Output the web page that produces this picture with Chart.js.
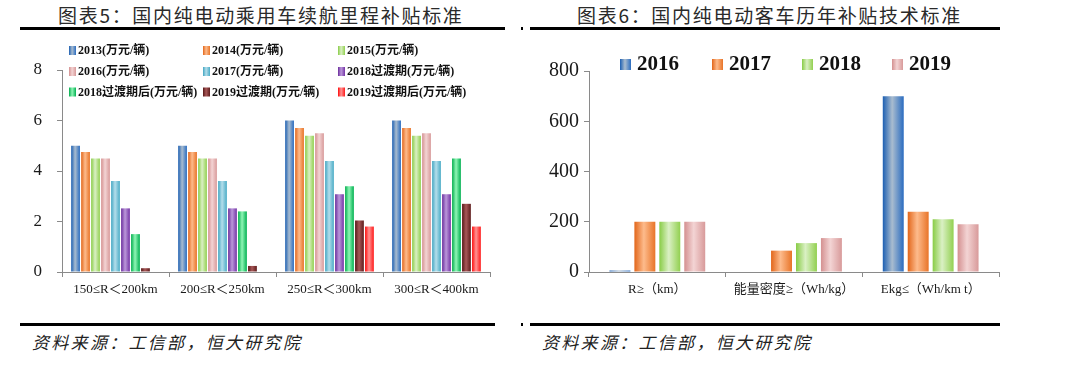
<!DOCTYPE html>
<html><head><meta charset="utf-8">
<script src="https://cdn.jsdelivr.net/npm/chart.js@4/dist/chart.umd.min.js"></script>
<style>
html,body{margin:0;padding:0;background:#fff;width:1065px;height:378px;overflow:hidden;position:relative}
.title{position:absolute;top:3px;font-family:'Noto Sans CJK SC';font-size:19px;letter-spacing:1.7px;color:#2a2a2a;white-space:nowrap;line-height:24px}
.rule{position:absolute;height:3px;background:#000}
.src{position:absolute;top:331px;font-family:'Noto Sans CJK SC';font-style:italic;font-size:17px;letter-spacing:2.3px;color:#222;line-height:22px;white-space:nowrap}
.wrap{position:absolute}
</style></head>
<body>
<div class="title" style="left:58px">图表5：国内纯电动乘用车续航里程补贴标准</div>
<div class="title" style="left:577px">图表6：国内纯电动客车历年补贴技术标准</div>
<div class="rule" style="left:20px;top:27px;width:485px"></div>
<div class="rule" style="left:521px;top:27px;width:2px"></div>
<div class="rule" style="left:530px;top:27px;width:470px"></div>
<div class="wrap" style="left:0;top:40px;width:520px;height:265px"><canvas id="c1" width="520" height="265"></canvas></div>
<div class="wrap" style="left:530px;top:40px;width:500px;height:265px"><canvas id="c2" width="500" height="265"></canvas></div>
<div class="rule" style="left:20px;top:323px;width:475px"></div>
<div class="rule" style="left:521px;top:323px;width:2px"></div>
<div class="rule" style="left:530px;top:323px;width:470px"></div>
<div class="src" style="left:32px">资料来源：工信部，恒大研究院</div>
<div class="src" style="left:542px">资料来源：工信部，恒大研究院</div>
<script>
// ---- Chart 5 data ----
const cats1 = ['150≤R＜200km','200≤R＜250km','250≤R＜300km','300≤R＜400km'];
const labels1 = ['2013(万元/辆)','2014(万元/辆)','2015(万元/辆)','2016(万元/辆)','2017(万元/辆)','2018过渡期(万元/辆)','2018过渡期后(万元/辆)','2019过渡期(万元/辆)','2019过渡期后(万元/辆)'];
const v2013 = [5, 5, 6, 6];
const v2014 = [4.75, 4.75, 5.7, 5.7];
const v2015 = [4.5, 4.5, 5.4, 5.4];
const v2016 = [4.5, 4.5, 5.5, 5.5];
const v2017 = [3.6, 3.6, 4.4, 4.4];
const v2018t = [2.52, 2.52, 3.08, 3.08];
const v2018a = [1.5, 2.4, 3.4, 4.5];
const v2019t = [0.15, 0.24, 2.04, 2.7];
const v2019a = [null, null, 1.8, 1.8];
const yTicks1 = [0, 2, 4, 6, 8];

// ---- Chart 6 data ----
const cats2 = ['R≥（km）','能量密度≥（Wh/kg）','Ekg≤（Wh/km t）'];
const labels2 = ['2016','2017','2018','2019'];
const b2016 = [6, null, 700];
const b2017 = [200, 85, 240];
const b2018 = [200, 115, 210];
const b2019 = [200, 135, 190];
const yTicks2 = [0, 200, 400, 600, 800];

// styles
const pal1 = [
  ['#1c5fb2','#a9bccf','#2a6cc0'],
  ['#e2661a','#fdbb8c','#e87428'],
  ['#88cc46','#daf0c4','#92d050'],
  ['#d49090','#f3d4d4','#d89a9a'],
  ['#42a6c2','#b4deeb','#4bacc6'],
  ['#6a2c9c','#bb98da','#7434a6'],
  ['#00ad4c','#90f6b6','#00b050'],
  ['#561616','#a85858','#5e1c1c'],
  ['#ff0a0a','#ff9494','#ff1a1a']
];
const pal2 = [pal1[0], pal1[1], pal1[2], pal1[3]];

function grad(ctx, x0, x1, p){
  const g = ctx.createLinearGradient(x0, 0, x1, 0);
  g.addColorStop(0, p[0]); g.addColorStop(0.45, p[1]); g.addColorStop(1, p[2]);
  return g;
}
const gradPlugin = {
  id:'gradBars',
  beforeDatasetsDraw(chart){
    const ctx = chart.ctx;
    chart.data.datasets.forEach((ds, di) => {
      const meta = chart.getDatasetMeta(di);
      meta.data.forEach(el => {
        const x = el.x, w = el.width;
        el.options = Object.assign({}, el.options, {backgroundColor: grad(ctx, x - w/2, x + w/2, ds._pal)});
      });
    });
  }
};
function legendPlugin(cfg){
  return {
    id:'gridLegend',
    afterDraw(chart){
      const ctx = chart.ctx;
      ctx.save();
      chart.data.datasets.forEach((ds, i) => {
        const col = i % cfg.cols, row = Math.floor(i / cfg.cols);
        const bx = cfg.xs[col], cy = cfg.ys[row];
        ctx.fillStyle = grad(ctx, bx, bx + cfg.bw, ds._pal);
        ctx.fillRect(bx, cy - cfg.bh/2, cfg.bw, cfg.bh);
        ctx.fillStyle = '#111';
        ctx.font = cfg.font;
        ctx.textBaseline = 'middle';
        ctx.textAlign = 'left';
        ctx.fillText(ds.label, bx + cfg.gap, cy + 0.5);
      });
      ctx.restore();
    }
  };
}

const serif = "'Liberation Serif','Noto Sans CJK SC',serif";
function makeChart(id, cats, labels, series, pal, yTicks, opt){
  const datasets = series.map((d, i) => ({label: labels[i], data: d, _pal: pal[i], backgroundColor: pal[i][1], borderWidth: 0,
    categoryPercentage: opt.catPct, barPercentage: opt.barPct}));
  return new Chart(document.getElementById(id), {
    type:'bar',
    data:{labels: cats, datasets},
    options:{
      responsive:false, animation:false,
      layout:{padding:{top:opt.padTop, right:opt.padRight, left:0, bottom:0}},
      plugins:{legend:{display:false}, tooltip:{enabled:false}},
      scales:{
        x:{
          grid:{display:true, offset:true, drawOnChartArea:false, drawTicks:true, tickLength:5, color:'#8a8a8a'},
          border:{display:true, color:'#8a8a8a', width:1},
          ticks:{font:{family:serif, size:13}, color:'#1a1a1a', padding:5, maxRotation:0, autoSkip:false},
          afterFit(s){ s.height = opt.xH; }
        },
        y:{
          min: yTicks[0], max: yTicks[yTicks.length-1],
          afterBuildTicks(s){ s.ticks = yTicks.map(v => ({value:v})); },
          grid:{display:true, drawOnChartArea:false, drawTicks:true, tickLength:5, color:'#8a8a8a'},
          border:{display:true, color:'#8a8a8a', width:1},
          ticks:{font:{family:serif, size:opt.yFont}, color:'#1a1a1a', padding:opt.yPad},
          afterFit(s){ s.width = opt.yW; }
        }
      }
    },
    plugins:[gradPlugin, legendPlugin(opt.legend)]
  });
}

makeChart('c1', cats1, labels1, [v2013,v2014,v2015,v2016,v2017,v2018t,v2018a,v2019t,v2019a], pal1, yTicks1, {
  catPct:0.84, barPct:0.88, padTop:30, padRight:30, xH:33, yW:62, yFont:17, yPad:15,
  legend:{cols:3, xs:[69,203,338], ys:[10.5,31.5,52], bw:7, bh:9, gap:9, font:"bold 12px 'Liberation Serif','Noto Sans CJK SC',serif"}
});
makeChart('c2', cats2, labels2, [b2016,b2017,b2018,b2019], pal2, yTicks2, {
  catPct:0.73, barPct:0.84, padTop:31, padRight:31, xH:33, yW:59, yFont:20, yPad:5,
  legend:{cols:4, xs:[90,182,272,362], ys:[24.5], bw:11, bh:11, gap:17, font:"bold 21px 'Liberation Serif','Noto Sans CJK SC',serif"}
});
</script>
</body></html>
